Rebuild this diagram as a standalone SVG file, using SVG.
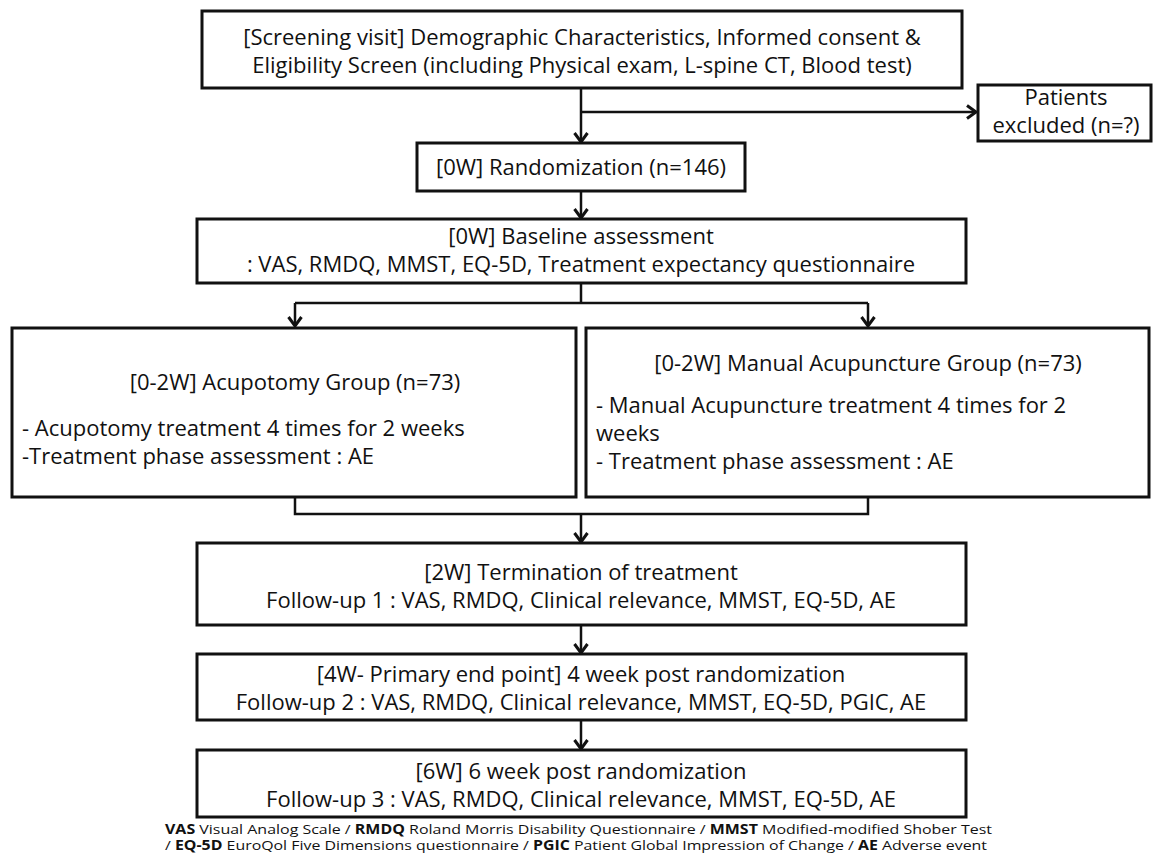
<svg xmlns="http://www.w3.org/2000/svg" width="1153" height="858" viewBox="0 0 1153 858">
<style>
.box{fill:#fff;stroke:#111;stroke-width:3}
.t{font-family:"Open Sans","Noto Sans",sans-serif;font-size:22px;fill:#111;text-anchor:middle}
.l{text-anchor:start}
.c{fill:none;stroke:#111;stroke-width:2.5}
.f{font-family:"Open Sans","Noto Sans",sans-serif;font-size:13.4px;fill:#111;text-anchor:start}
.b{font-weight:bold}
</style>
<defs>
<marker id="ah" markerWidth="16" markerHeight="16" refX="12" refY="8" orient="auto" markerUnits="userSpaceOnUse">
<path d="M3,1.5 L12,8 L3,14.5" fill="none" stroke="#111" stroke-width="3"/>
</marker>
</defs>
<g id="connectors">
<line class="c" x1="581" y1="88" x2="581" y2="142" marker-end="url(#ah)"/>
<line class="c" x1="581" y1="112" x2="976" y2="112" marker-end="url(#ah)"/>
<line class="c" x1="581" y1="191" x2="581" y2="218" marker-end="url(#ah)"/>
<polyline class="c" points="581,283 581,303"/>
<polyline class="c" points="295,303 868,303"/>
<line class="c" x1="295" y1="303" x2="295" y2="326" marker-end="url(#ah)"/>
<line class="c" x1="868" y1="303" x2="868" y2="326" marker-end="url(#ah)"/>
<polyline class="c" points="295,497 295,514 868,514 868,497"/>
<line class="c" x1="581" y1="514" x2="581" y2="542" marker-end="url(#ah)"/>
<line class="c" x1="581" y1="625" x2="581" y2="653" marker-end="url(#ah)"/>
<line class="c" x1="581" y1="720" x2="581" y2="749" marker-end="url(#ah)"/>
</g>
<g id="screening">
<rect class="box" x="202" y="11" width="760" height="77"/>
<text class="t" x="582" y="45">[Screening visit] Demographic Characteristics, Informed consent &amp;</text>
<text class="t" x="582" y="73">Eligibility Screen (including Physical exam, L-spine CT, Blood test)</text>
</g>
<g id="excluded">
<rect class="box" x="978" y="85" width="173" height="56"/>
<text class="t" x="1066" y="105">Patients</text>
<text class="t" x="1066" y="133">excluded (n=?)</text>
</g>
<g id="randomization">
<rect class="box" x="417" y="143" width="328" height="48"/>
<text class="t" x="581" y="175">[0W] Randomization (n=146)</text>
</g>
<g id="baseline">
<rect class="box" x="197" y="219" width="769" height="64"/>
<text class="t" x="581" y="244">[0W] Baseline assessment</text>
<text class="t" x="581" y="272">: VAS, RMDQ, MMST, EQ-5D, Treatment expectancy questionnaire</text>
</g>
<g id="acupotomy">
<rect class="box" x="12" y="328" width="564" height="169"/>
<text class="t" x="295" y="390">[0-2W] Acupotomy Group (n=73)</text>
<text class="t l" x="22" y="436">- Acupotomy treatment 4 times for 2 weeks</text>
<text class="t l" x="22" y="464">-Treatment phase assessment : AE</text>
</g>
<g id="manual">
<rect class="box" x="586" y="328" width="563" height="169"/>
<text class="t" x="868" y="371">[0-2W] Manual Acupuncture Group (n=73)</text>
<text class="t l" x="596" y="413">- Manual Acupuncture treatment 4 times for 2</text>
<text class="t l" x="596" y="441">weeks</text>
<text class="t l" x="596" y="469">- Treatment phase assessment : AE</text>
</g>
<g id="termination">
<rect class="box" x="197" y="543" width="769" height="82"/>
<text class="t" x="581" y="580">[2W] Termination of treatment</text>
<text class="t" x="581" y="608">Follow-up 1 : VAS, RMDQ, Clinical relevance, MMST, EQ-5D, AE</text>
</g>
<g id="week4">
<rect class="box" x="197" y="654" width="769" height="66"/>
<text class="t" x="581" y="682">[4W- Primary end point] 4 week post randomization</text>
<text class="t" x="581" y="710">Follow-up 2 : VAS, RMDQ, Clinical relevance, MMST, EQ-5D, PGIC, AE</text>
</g>
<g id="week6">
<rect class="box" x="197" y="750" width="769" height="67"/>
<text class="t" x="581" y="779">[6W] 6 week post randomization</text>
<text class="t" x="581" y="807">Follow-up 3 : VAS, RMDQ, Clinical relevance, MMST, EQ-5D, AE</text>
</g>
<g id="footnote">
<text class="f" x="165" y="834" textLength="827" lengthAdjust="spacingAndGlyphs"><tspan class="b">VAS</tspan> Visual Analog Scale / <tspan class="b">RMDQ</tspan> Roland Morris Disability Questionnaire / <tspan class="b">MMST</tspan> Modified-modified Shober Test</text>
<text class="f" x="165" y="850" textLength="822" lengthAdjust="spacingAndGlyphs">/ <tspan class="b">EQ-5D</tspan> EuroQol Five Dimensions questionnaire / <tspan class="b">PGIC</tspan> Patient Global Impression of Change / <tspan class="b">AE</tspan> Adverse event</text>
</g>
</svg>
